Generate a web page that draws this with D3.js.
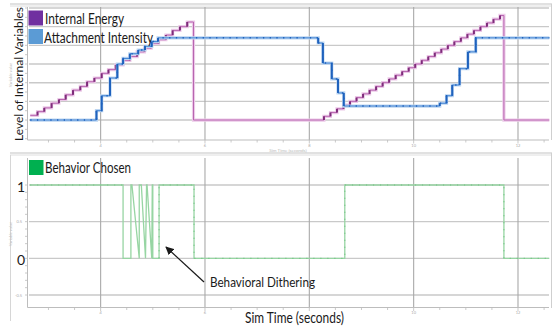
<!DOCTYPE html>
<html>
<head>
<meta charset="utf-8">
<script src="https://cdn.jsdelivr.net/npm/d3@7"></script>
<style>
  body { margin: 0; background: #fff; }
  svg { display: block; font-family: Lato, "Open Sans", sans-serif; }
</style>
</head>
<body>
<div id="main"></div>
<script>
// time axis labels (seconds)
const timeTicks = [4, 6, 8, 10, 12];
const behaviorTicks = [1, 0.5, 0, -0.5];

// Internal Energy (step series)
const energyTime = [2.65, 2.79, 2.92, 3.06, 3.20, 3.33, 3.47, 3.61, 3.74, 3.88, 4.02, 4.15, 4.29, 4.43, 4.56, 4.70,
  4.84, 4.97, 5.11, 5.25, 5.38, 5.52, 5.66, 5.78,
  8.28, 8.405, 8.53, 8.655, 8.78, 8.905, 9.03, 9.155, 9.28, 9.405, 9.53, 9.655, 9.78, 9.905, 10.03, 10.155,
  10.28, 10.405, 10.53, 10.655, 10.78, 10.905, 11.03, 11.155, 11.28, 11.405, 11.53, 11.655, 11.73, 12.6];
const energyValue = [0.05, 0.09, 0.13, 0.18, 0.22, 0.27, 0.32, 0.36, 0.41, 0.45, 0.50, 0.54, 0.59, 0.64, 0.68, 0.73,
  0.77, 0.82, 0.86, 0.91, 0.96, 1.00, 1.05, 0,
  0.04, 0.08, 0.12, 0.16, 0.20, 0.24, 0.28, 0.32, 0.36, 0.40, 0.44, 0.48, 0.52, 0.56, 0.60, 0.64,
  0.68, 0.72, 0.76, 0.80, 0.84, 0.88, 0.92, 0.96, 1.00, 1.04, 1.08, 1.12, 0, 0];

// Attachment Intensity (step series)
const attachTime = [2.65, 3.92, 4.02, 4.18, 4.32, 4.43, 4.56, 4.72, 4.85, 4.98, 5.10,
  8.17, 8.26, 8.43, 8.55, 8.66, 10.50, 10.63, 10.74, 10.88, 11.04, 11.19, 12.6];
const attachValue = [0, 0.10, 0.26, 0.45, 0.60, 0.66, 0.71, 0.75, 0.79, 0.84, 0.88,
  0.825, 0.61, 0.44, 0.29, 0.15, 0.18, 0.26, 0.375, 0.55, 0.73, 0.88, 0.88];

// Behavior Chosen (line through points, dithering in the middle)
const behaviorTime = [2.65, 4.43, 4.43, 4.58, 4.58, 4.60, 4.74, 4.74, 4.78, 4.86, 4.88, 4.89, 4.98, 4.99, 5.00, 5.00,
  5.12, 5.12, 5.79, 5.79, 8.68, 8.68, 11.73, 11.73, 12.6];
const behaviorValue = [1, 1, 0, 0, 1, 1, 0, 1, 1, 0, 1, 1, 0, 1, 1, 0,
  0, 1, 1, 0, 0, 1, 1, 0, 0];

const ctx = { width: 557, height: 331 };

const svg = d3.select("#main").append("svg")
  .attr("width", ctx.width)
  .attr("height", ctx.height);

const x = d3.scaleLinear().domain([2.6, 12.6]).range([27.6, 549.3]);
const yTop = d3.scaleLinear().domain([-0.2, 1.2]).range([138.7, 8]);
const yBot = d3.scaleLinear().domain([-0.5, 1]).range([295, 185]);

const zip = (t, v) => t.map((d, i) => ({ t: d, v: v[i] }));
const energy = zip(energyTime, energyValue);
const attach = zip(attachTime, attachValue);
const behavior = zip(behaviorTime, behaviorValue);

// panel frames
function frame(y0, y1, yr, left) {
  const g = svg.append("g").attr("fill", "none");
  g.append("line").attr("x1", 10).attr("x2", 552).attr("y1", y0).attr("y2", y0).attr("stroke", "#c4c4c4").attr("stroke-width", 1.2);
  g.append("line").attr("x1", 10).attr("x2", 552).attr("y1", y0 + 2).attr("y2", y0 + 2).attr("stroke", "#dedede").attr("stroke-width", 1);
  g.append("line").attr("x1", 551.5).attr("x2", 551.5).attr("y1", y0).attr("y2", yr).attr("stroke", "#cfcfcf");
  if (left) g.append("line").attr("x1", 10.5).attr("x2", 10.5).attr("y1", y0 + 2).attr("y2", y1).attr("stroke", "#d6d6d6");
}
frame(4, 147, 140, false);
frame(153, 321, 308, true);

// grid
function grid(y, vals, top, bottom) {
  const g = svg.append("g");
  g.selectAll("line.h").data(vals).join("line")
    .attr("x1", 29).attr("x2", 549)
    .attr("y1", d => y(d)).attr("y2", d => y(d))
    .attr("stroke", "#c9c9c9").attr("stroke-width", 1.4);
  g.selectAll("line.v").data(timeTicks).join("line")
    .attr("x1", d => x(d)).attr("x2", d => x(d))
    .attr("y1", top).attr("y2", bottom)
    .attr("stroke", "#a9a9a9").attr("stroke-width", 1.1);
}
grid(yTop, [0, 0.2, 0.4, 0.6, 0.8, 1.0, 1.2], 7, 140);
grid(yBot, behaviorTicks, 158, 307);

// axes
function axes(y, yMinor, axisY, top, labelY, labels) {
  const g = svg.append("g").attr("stroke", "#bdbdbd");
  g.append("line").attr("x1", 27.5).attr("x2", 27.5).attr("y1", top).attr("y2", axisY).attr("stroke-width", 1);
  g.append("line").attr("x1", 27.5).attr("x2", 549).attr("y1", axisY).attr("y2", axisY).attr("stroke-width", 1);
  g.selectAll("line.mx").data(x.ticks(20).filter(d => d > 2.6)).join("line")
    .attr("x1", d => x(d)).attr("x2", d => x(d))
    .attr("y1", axisY).attr("y2", d => axisY + (timeTicks.includes(d) ? 3.5 : 2.5))
    .attr("stroke-width", 0.8);
  g.selectAll("line.my").data(yMinor).join("line")
    .attr("x1", 25).attr("x2", 27.5)
    .attr("y1", d => y(d)).attr("y2", d => y(d))
    .attr("stroke-width", 0.8);
  svg.append("g").selectAll("text").data(labels).join("text")
    .attr("x", d => x(d)).attr("y", labelY)
    .attr("text-anchor", "middle")
    .attr("font-size", 4).attr("fill", "#aaa")
    .text(d => d);
}
axes(yTop, yTop.ticks(14), 140, 7, 146.5, timeTicks);
axes(yBot, yBot.ticks(15).filter(d => d <= 1.3 && d >= -0.6), 307.5, 158, 313.5, [4, 6, 10, 12]);

// tiny y tick labels on the behaviour panel
svg.append("g").selectAll("text").data([0.5, -0.5]).join("text")
  .attr("x", 22).attr("y", d => yBot(d) + 1.5)
  .attr("text-anchor", "end").attr("font-size", 4).attr("fill", "#aaa")
  .text(d => d);

// tiny axis titles from the original tool
svg.append("text").attr("transform", "translate(12,75) rotate(-90)")
  .attr("text-anchor", "middle").attr("font-size", 4).attr("fill", "#c0c0c0").text("Variable value");
svg.append("text").attr("transform", "translate(12,234) rotate(-90)")
  .attr("text-anchor", "middle").attr("font-size", 4).attr("fill", "#c0c0c0").text("Variable value");
svg.append("text").attr("x", 288).attr("y", 152.3)
  .attr("text-anchor", "middle").attr("font-size", 4.5).attr("fill", "#b8b8b8").text("Sim Time (seconds)");

// step series drawing
const stepLine = (y) => d3.line().x(d => x(d.t)).y(d => y(d.v)).curve(d3.curveStepAfter);

function drawStep(data, halo, core, riser, dots) {
  const g = svg.append("g").attr("fill", "none");
  g.append("path").datum(data).attr("d", stepLine(yTop))
    .attr("stroke", halo).attr("stroke-width", 3.2);
  g.append("path").datum(data).attr("d", stepLine(yTop))
    .attr("stroke", core).attr("stroke-width", 1);
  if (dots) {
    g.append("path").datum(data).attr("d", stepLine(yTop))
      .attr("stroke", riser).attr("stroke-width", 1.5)
      .attr("stroke-dasharray", "1.3 5.4");
  }
  const steps = data.slice(1).map((d, i) => ({ t: d.t, v0: data[i].v, v1: d.v }))
    .filter(d => d.v0 !== d.v1 && Math.abs(d.v1 - d.v0) < 0.5);
  g.selectAll("line").data(steps).join("line")
    .attr("x1", d => x(d.t)).attr("x2", d => x(d.t))
    .attr("y1", d => yTop(d.v0)).attr("y2", d => yTop(d.v1))
    .attr("stroke", riser).attr("stroke-width", 2);
}
drawStep(energy, "#ecc9e8", "#b865b0", "#7e2c7a", false);
drawStep(attach, "#bcd5f1", "#3f82d2", "#1f62bd", true);

// behaviour series
const bLine = d3.line().x(d => x(d.t)).y(d => yBot(d.v));
svg.append("path").datum(behavior).attr("d", bLine)
  .attr("fill", "none").attr("stroke", "#97d5a3").attr("stroke-width", 1.3);
[behavior.slice(0, 2), behavior.filter(d => d.t >= 5.12)].forEach(part => {
  svg.append("path").datum(part).attr("d", bLine)
    .attr("fill", "none").attr("stroke", "#72c483").attr("stroke-width", 1.2)
    .attr("stroke-dasharray", "1 6");
});

// legends
const legend = [
  { label: "Internal Energy", color: "#7030a0", x: 28.5, y: 10.5, tx: 45, ty: 24, len: 79, fs: 16 },
  { label: "Attachment Intensity", color: "#5b9bd5", x: 28.5, y: 29, tx: 44, ty: 42.5, len: 109, fs: 16 },
  { label: "Behavior Chosen", color: "#00b050", x: 29, y: 160, tx: 45, ty: 172.7, len: 86, fs: 15 }
];
const lg = svg.append("g");
lg.selectAll("rect").data(legend).join("rect")
  .attr("x", d => d.x).attr("y", d => d.y).attr("width", 14.5).attr("height", 15)
  .attr("fill", d => d.color);
lg.selectAll("text").data(legend).join("text")
  .attr("x", d => d.tx).attr("y", d => d.ty)
  .attr("font-size", d => d.fs).attr("fill", "#1a1a1a")
  .attr("textLength", d => d.len).attr("lengthAdjust", "spacingAndGlyphs")
  .text(d => d.label);

// big axis labels
svg.append("text").attr("transform", "translate(23,74) rotate(-90)")
  .attr("text-anchor", "middle").attr("font-size", 12.3).attr("fill", "#1a1a1a")
  .attr("textLength", 134).attr("lengthAdjust", "spacingAndGlyphs")
  .text("Level of Internal Variables");
svg.append("g").selectAll("text").data([1, 0]).join("text")
  .attr("x", 21).attr("y", d => yBot(d) + 7)
  .attr("text-anchor", "middle").attr("font-size", 14).attr("fill", "#1a1a1a")
  .text(d => d);
svg.append("text").attr("x", 245).attr("y", 323.3)
  .attr("font-size", 14.5).attr("fill", "#1a1a1a")
  .attr("textLength", 99).attr("lengthAdjust", "spacingAndGlyphs")
  .text("Sim Time (seconds)");

// annotation
svg.append("defs").append("marker")
  .attr("id", "arrow").attr("viewBox", "0 0 10 10").attr("refX", 9).attr("refY", 5)
  .attr("markerWidth", 7).attr("markerHeight", 7).attr("orient", "auto")
  .append("path").attr("d", "M0,0 L10,5 L0,10 z").attr("fill", "#1a1a1a");
svg.append("line").attr("x1", 204).attr("y1", 282).attr("x2", 166).attr("y2", 247)
  .attr("stroke", "#1a1a1a").attr("stroke-width", 1.2).attr("marker-end", "url(#arrow)");
svg.append("text").attr("x", 210).attr("y", 286.7)
  .attr("font-size", 14).attr("fill", "#1a1a1a")
  .attr("textLength", 105).attr("lengthAdjust", "spacingAndGlyphs")
  .text("Behavioral Dithering");
</script>
</body>
</html>
